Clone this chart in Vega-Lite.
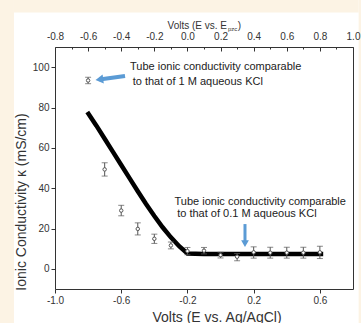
{
  "$schema": "https://vega.github.io/schema/vega-lite/v6.json",
  "width": 298,
  "height": 242,
  "autosize": {"type": "none"},
  "padding": {"left": 55, "top": 47, "right": 8, "bottom": 34},
  "background": "white",
  "config": {
    "font": "Liberation Sans",
    "view": {"stroke": "#333", "strokeWidth": 1},
    "axis": {"grid": false, "domain": false, "tickColor": "#333", "labelColor": "#333", "titleColor": "#333", "labelFont": "Liberation Sans", "titleFont": "Liberation Sans", "titleFontWeight": "normal", "labelFontSize": 10, "labelOverlap": false, "labelFlush": false}
  },
  "datasets": {
    "curve": [
      {"x": -0.805, "y": 77.8},
      {"x": -0.75, "y": 71},
      {"x": -0.7, "y": 64.5},
      {"x": -0.65, "y": 58},
      {"x": -0.6, "y": 51.5},
      {"x": -0.55, "y": 45},
      {"x": -0.5, "y": 38.5},
      {"x": -0.45, "y": 32.2},
      {"x": -0.4, "y": 26.2},
      {"x": -0.35, "y": 20.6},
      {"x": -0.3, "y": 15.6},
      {"x": -0.25, "y": 11.2},
      {"x": -0.2, "y": 7.6},
      {"x": -0.1, "y": 7.4},
      {"x": 0.0, "y": 7.4},
      {"x": 0.1, "y": 7.4},
      {"x": 0.2, "y": 7.4},
      {"x": 0.3, "y": 7.4},
      {"x": 0.4, "y": 7.4},
      {"x": 0.5, "y": 7.4},
      {"x": 0.62, "y": 7.4}
    ],
    "measured": [
      {"x": -0.8, "y": 93.4, "lo": 91.8, "hi": 95.0},
      {"x": -0.7, "y": 49.3, "lo": 46.0, "hi": 52.6},
      {"x": -0.6, "y": 28.9, "lo": 26.3, "hi": 31.5},
      {"x": -0.5, "y": 19.8, "lo": 16.8, "hi": 22.8},
      {"x": -0.4, "y": 14.9, "lo": 12.6, "hi": 17.2},
      {"x": -0.3, "y": 11.6, "lo": 9.9, "hi": 13.3},
      {"x": -0.2, "y": 8.8, "lo": 7.0, "hi": 10.6},
      {"x": -0.1, "y": 9.0, "lo": 7.4, "hi": 10.6},
      {"x": 0.0, "y": 6.8, "lo": 5.4, "hi": 8.2},
      {"x": 0.1, "y": 6.0, "lo": 4.0, "hi": 7.6},
      {"x": 0.2, "y": 8.2, "lo": 5.3, "hi": 10.9},
      {"x": 0.3, "y": 8.0, "lo": 5.3, "hi": 10.7},
      {"x": 0.4, "y": 8.0, "lo": 5.3, "hi": 10.7},
      {"x": 0.5, "y": 8.0, "lo": 5.3, "hi": 10.7},
      {"x": 0.6, "y": 8.2, "lo": 5.1, "hi": 11.2}
    ],
    "notes": [
      {"x": -0.547, "y": 100.2, "text": "Tube ionic conductivity comparable"},
      {"x": -0.531, "y": 92.7, "text": "to that of 1 M aqueous KCl"},
      {"x": -0.278, "y": 33.0, "text": "Tube ionic conductivity comparable"},
      {"x": -0.262, "y": 27.2, "text": "to that of 0.1 M aqueous KCl"}
    ],
    "toptitle": [
      {"x": 0.039, "y": 119.16, "text": "Volts (E vs. E"}
    ],
    "topclose": [
      {"x": 0.104, "y": 119.16, "text": ")"}
    ],
    "sub": [{"x": 0.045, "y": 117.9, "text": "pzc"}],
    "shaft1": [{"x": -0.577, "y": 95.6, "x2": -0.732, "y2": 93.87}],
    "head1": [{"x": -0.732, "y": 93.87}],
    "shaft2": [{"x": 0.1476, "y": 22.2, "x2": 0.1476, "y2": 12.5}],
    "head2": [{"x": 0.1476, "y": 12.5}],
    "one": [{"v": 0}],
    "two": [{"v": 1}],
    "three": [{"v": 2}]
  },
  "layer": [
    {
      "layer": [
        {
          "data": {"name": "curve"},
          "mark": {"type": "line", "color": "black", "strokeWidth": 4.5},
          "encoding": {
            "x": {
              "field": "x", "type": "quantitative",
              "scale": {"domain": [-1, 0.8], "nice": false, "zero": false},
              "axis": {
                "orient": "bottom",
                "title": "Volts (E vs. Ag/AgCl)",
                "values": [-1.0, -0.9, -0.8, -0.7, -0.6, -0.5, -0.4, -0.3, -0.2, -0.1, 0.0, 0.1, 0.2, 0.3, 0.4, 0.5, 0.6, 0.7, 0.8],
                "labelExpr": "round(datum.value*10)%2==0 ? replace(format(datum.value,'.1f'),'\u2212','-') : ''",
                "tickSize": {"condition": {"test": "round(datum.value*10)%2==0", "value": 4}, "value": 2},
                "labelPadding": 2,
                "titleFontSize": 14,
                "titleX": 161.5,
                "titleY": 32.8,
                "titleBaseline": "alphabetic",
                "titleAlign": "center",
                "zindex": 1
              }
            },
            "y": {
              "field": "y", "type": "quantitative",
              "scale": {"domain": [-10, 110], "nice": false, "zero": false},
              "axis": {
                "orient": "left",
                "title": "Ionic Conductivity κ (mS/cm)",
                "values": [0, 20, 40, 60, 80, 100],
                "tickSize": 4,
                "labelPadding": 2,
                "titleFontSize": 14,
                "titleX": -30,
                "titleY": 154.5,
                "titleBaseline": "alphabetic",
                "titleAlign": "center",
                "zindex": 1
              }
            }
          }
        },
        {
          "data": {"name": "one"},
          "mark": {"type": "rect", "color": "#fcf3e4"},
          "encoding": {
            "x": {"datum": -2, "type": "quantitative"},
            "x2": {"datum": -1.248},
            "y": {"datum": -60, "type": "quantitative"},
            "y2": {"datum": 300}
          }
        },
        {
          "data": {"name": "two"},
          "mark": {"type": "rect", "color": "#fcf3e4"},
          "encoding": {
            "x": {"datum": -1.248, "type": "quantitative"},
            "x2": {"datum": 0.834},
            "y": {"datum": 127.1, "type": "quantitative"},
            "y2": {"datum": 300}
          }
        },
        {
          "data": {"name": "three"},
          "mark": {"type": "rect", "color": "#fcf3e4"},
          "encoding": {
            "x": {"datum": 0.834, "type": "quantitative"},
            "x2": {"datum": 2},
            "y": {"datum": -60, "type": "quantitative"},
            "y2": {"datum": 300}
          }
        },
        {
          "data": {"name": "measured"},
          "mark": {"type": "rule", "color": "#555", "strokeWidth": 1},
          "encoding": {
            "x": {"field": "x", "type": "quantitative"},
            "y": {"field": "lo", "type": "quantitative"},
            "y2": {"field": "hi"}
          }
        },
        {
          "data": {"name": "measured"},
          "mark": {"type": "tick", "orient": "horizontal", "color": "#555", "size": 6, "thickness": 1},
          "encoding": {
            "x": {"field": "x", "type": "quantitative"},
            "y": {"field": "lo", "type": "quantitative"}
          }
        },
        {
          "data": {"name": "measured"},
          "mark": {"type": "tick", "orient": "horizontal", "color": "#555", "size": 6, "thickness": 1},
          "encoding": {
            "x": {"field": "x", "type": "quantitative"},
            "y": {"field": "hi", "type": "quantitative"}
          }
        },
        {
          "data": {"name": "measured"},
          "mark": {"type": "point", "shape": "circle", "filled": true, "fill": "white", "stroke": "#555", "strokeWidth": 1, "size": 12, "opacity": 1},
          "encoding": {
            "x": {"field": "x", "type": "quantitative"},
            "y": {"field": "y", "type": "quantitative"}
          }
        },
        {
          "data": {"name": "shaft1"},
          "mark": {"type": "rule", "color": "#5b9bd5", "strokeWidth": 4},
          "encoding": {
            "x": {"field": "x", "type": "quantitative"},
            "y": {"field": "y", "type": "quantitative"},
            "x2": {"field": "x2"},
            "y2": {"field": "y2"}
          }
        },
        {
          "data": {"name": "head1"},
          "mark": {"type": "point", "shape": "triangle-up", "angle": 262.4, "filled": true, "color": "#5b9bd5", "size": 80, "opacity": 1},
          "encoding": {
            "x": {"field": "x", "type": "quantitative"},
            "y": {"field": "y", "type": "quantitative"}
          }
        },
        {
          "data": {"name": "shaft2"},
          "mark": {"type": "rule", "color": "#5b9bd5", "strokeWidth": 3},
          "encoding": {
            "x": {"field": "x", "type": "quantitative"},
            "y": {"field": "y", "type": "quantitative"},
            "x2": {"field": "x2"},
            "y2": {"field": "y2"}
          }
        },
        {
          "data": {"name": "head2"},
          "mark": {"type": "point", "shape": "triangle-down", "filled": true, "color": "#5b9bd5", "size": 60, "opacity": 1},
          "encoding": {
            "x": {"field": "x", "type": "quantitative"},
            "y": {"field": "y", "type": "quantitative"}
          }
        },
        {
          "data": {"name": "notes"},
          "mark": {"type": "text", "align": "left", "baseline": "middle", "fontSize": 11, "color": "#222", "font": "Liberation Sans"},
          "encoding": {
            "x": {"field": "x", "type": "quantitative"},
            "y": {"field": "y", "type": "quantitative"},
            "text": {"field": "text"}
          }
        },
        {
          "data": {"name": "toptitle"},
          "mark": {"type": "text", "align": "right", "baseline": "alphabetic", "fontSize": 10, "color": "#333", "font": "Liberation Sans"},
          "encoding": {
            "x": {"field": "x", "type": "quantitative"},
            "y": {"field": "y", "type": "quantitative"},
            "text": {"field": "text"}
          }
        },
        {
          "data": {"name": "topclose"},
          "mark": {"type": "text", "align": "left", "baseline": "alphabetic", "fontSize": 10, "color": "#333", "font": "Liberation Sans"},
          "encoding": {
            "x": {"field": "x", "type": "quantitative"},
            "y": {"field": "y", "type": "quantitative"},
            "text": {"field": "text"}
          }
        },
        {
          "data": {"name": "sub"},
          "mark": {"type": "text", "align": "left", "baseline": "alphabetic", "fontSize": 6, "color": "#333", "font": "Liberation Sans"},
          "encoding": {
            "x": {"field": "x", "type": "quantitative"},
            "y": {"field": "y", "type": "quantitative"},
            "text": {"field": "text"}
          }
        }
      ]
    },
    {
      "data": {"name": "one"},
      "mark": {"type": "rule", "opacity": 0},
      "encoding": {
        "x": {
          "field": "v", "type": "quantitative",
          "scale": {"domain": [-0.8, 1.0], "nice": false, "zero": false},
          "axis": {
            "orient": "top",
            "title": null,
            "values": [-0.8, -0.7, -0.6, -0.5, -0.4, -0.3, -0.2, -0.1, 0.0, 0.1, 0.2, 0.3, 0.4, 0.5, 0.6, 0.7, 0.8, 0.9, 1.0],
            "labelExpr": "round(datum.value*10)%2==0 ? replace(format(datum.value,'.1f'),'\u2212','-') : ''",
            "tickSize": {"condition": {"test": "round(datum.value*10)%2==0", "value": -4}, "value": -2},
            "labelPadding": 10,
            "zindex": 1
          }
        }
      }
    }
  ],
  "resolve": {"scale": {"x": "independent"}}
}
